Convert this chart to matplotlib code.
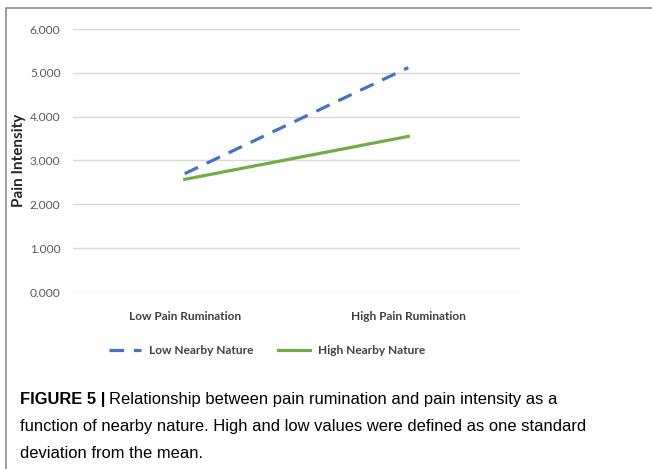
import matplotlib.pyplot as plt
from matplotlib.patches import Rectangle

categories = ["Low Pain Rumination", "High Pain Rumination"]
low_nature = [2.70, 5.12]
high_nature = [2.57, 3.55]
yticks = [0, 1, 2, 3, 4, 5, 6]

fig = plt.figure(figsize=(6.52, 4.69), dpi=100)
ax = fig.add_axes([73 / 652, 1 - 292 / 469, 447 / 652, 263 / 469])

x = [0, 1]
ax.plot(x, low_nature, color="#4472C4", lw=2.3, ls=(0, (4.6, 3.0)), label="Low Nearby Nature")
ax.plot(x, high_nature, color="#70AD47", lw=2.3, label="High Nearby Nature")

ax.set_xlim(-0.5, 1.5)
ax.set_ylim(0, 6)
ax.set_yticks(yticks)
ax.set_yticklabels([f"{v:.3f}" for v in yticks], fontsize=8.6, color="#595959", family="Lato")
ax.set_xticks(x)
ax.set_xticklabels(categories, fontsize=8.6, color="#404040", family="Lato", fontweight="bold")
ax.tick_params(length=0, pad=14, axis="x")
ax.tick_params(length=0, pad=9, axis="y")
ax.grid(axis="y", color="#d9d9d9", lw=1)
ax.set_axisbelow(True)
for s in ax.spines.values():
    s.set_visible(False)
ax.set_ylabel("Pain Intensity", fontsize=11, fontweight="bold", family="Lato", color="#262626", labelpad=3)

leg = ax.legend(loc="upper center", bbox_to_anchor=(0.434, -0.16), ncol=2, frameon=False,
                prop={"family": "Lato", "weight": "bold", "size": 8.6}, handlelength=2.7,
                columnspacing=2.0, handletextpad=0.7)
for t in leg.get_texts():
    t.set_color("#404040")

# outer frame
fig.patches.append(Rectangle((6 / 652, -0.05), 1.1, 1 - 8 / 469 + 0.05, transform=fig.transFigure,
                             fill=False, ec="#8c8c8c", lw=1.2))

cap_size = 11.9
head = fig.text(20 / 652, 1 - 399 / 469, "FIGURE 5 |", fontsize=cap_size, fontweight="bold", va="center",
                family="Liberation Sans")
fig.canvas.draw()
bb = head.get_window_extent(fig.canvas.get_renderer())
fig.text(bb.x1 / fig.bbox.width + 4 / 652, 1 - 399 / 469,
         "Relationship between pain rumination and pain intensity as a",
         fontsize=cap_size, family="Liberation Sans", va="center")
fig.text(20 / 652, 1 - 426 / 469, "function of nearby nature. High and low values were defined as one standard",
         fontsize=cap_size, family="Liberation Sans", va="center")
fig.text(20 / 652, 1 - 453 / 469, "deviation from the mean.", fontsize=cap_size, family="Liberation Sans", va="center")

fig.savefig("out.png", dpi=100)
